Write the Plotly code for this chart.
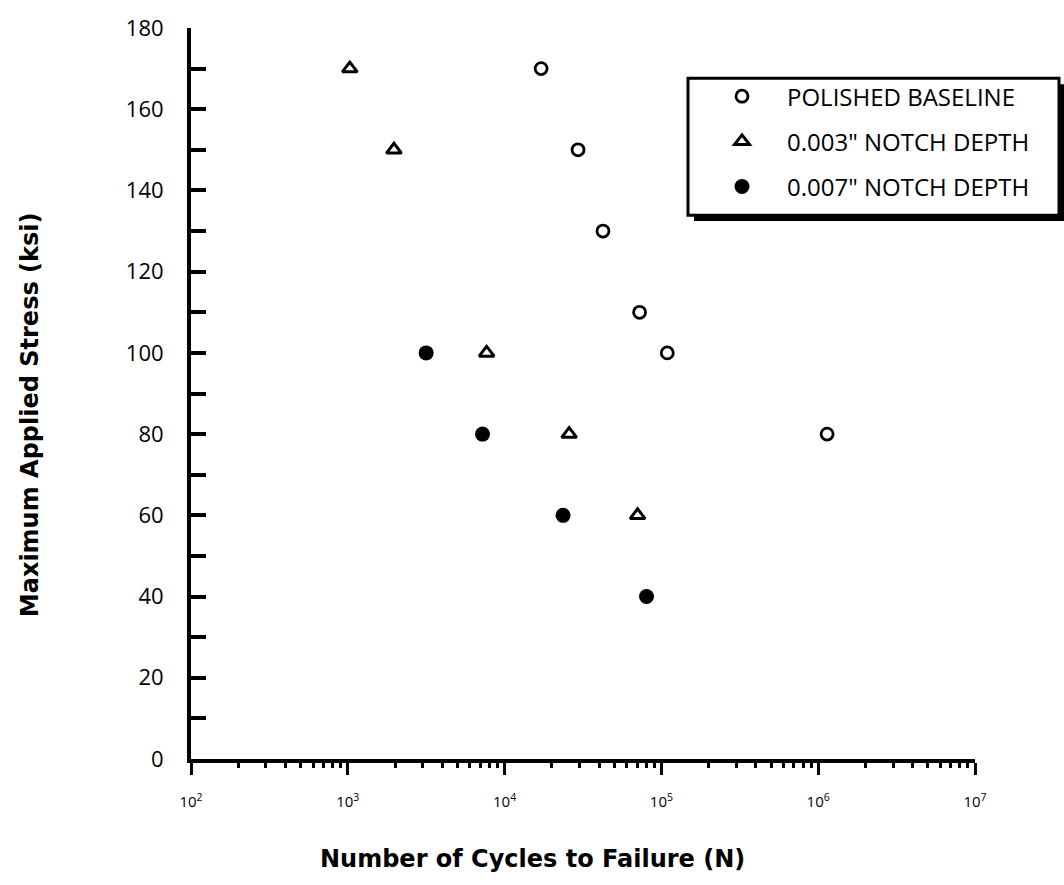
import plotly.graph_objects as go

# Data
polished_cycles = [17100, 29400, 42400, 72600, 109000, 1140000]
polished_stress = [170, 150, 130, 110, 100, 80]

notch003_cycles = [1030, 1970, 7680, 25800, 70500]
notch003_stress = [170, 150, 100, 80, 60]

notch007_cycles = [3160, 7230, 23600, 80400]
notch007_stress = [100, 80, 60, 40]

series_names = ["POLISHED BASELINE", "0.003\" NOTCH DEPTH", "0.007\" NOTCH DEPTH"]

x_tick_vals = [1e2, 1e3, 1e4, 1e5, 1e6, 1e7]
x_tick_text = ["10<sup>2</sup>", "10<sup>3</sup>", "10<sup>4</sup>",
               "10<sup>5</sup>", "10<sup>6</sup>", "10<sup>7</sup>"]
y_tick_vals = list(range(0, 181, 20))

fig = go.Figure()
fig.add_trace(go.Scatter(
    x=polished_cycles, y=polished_stress, mode="markers", name=series_names[0],
    legendgroup="a",
    marker=dict(symbol="circle-open", size=12, color="black", line=dict(width=2.8, color="black"))))
fig.add_trace(go.Scatter(
    x=notch003_cycles, y=notch003_stress, mode="markers", name=series_names[1],
    legendgroup="b",
    marker=dict(symbol="triangle-up-open", size=13, color="black", line=dict(width=3, color="black"))))
fig.add_trace(go.Scatter(
    x=notch007_cycles, y=notch007_stress, mode="markers", name=series_names[2],
    legendgroup="c",
    marker=dict(symbol="circle", size=15, color="black")))

tick_font = dict(family="Open Sans", size=22, color="black")
title_font = dict(family="DejaVu Sans", size=24, color="black")

fig.update_layout(
    width=1064, height=885,
    margin=dict(l=191, r=89, t=17, b=126),
    paper_bgcolor="white", plot_bgcolor="white",
    showlegend=True,
    legend=dict(
        x=(697 - 191) / 784, y=0.937, xanchor="left", yanchor="top",
        bgcolor="rgba(0,0,0,0)", borderwidth=0,
        font=dict(family="Open Sans", size=24, color="black"),
        traceorder="grouped", tracegroupgap=11, itemwidth=80,
    ),
    xaxis=dict(
        type="log", range=[2, 7],
        showline=True, linecolor="black", linewidth=4,
        showgrid=False, zeroline=False,
        ticks="outside", ticklen=12, tickwidth=3, tickcolor="black",
        tickvals=x_tick_vals, ticktext=x_tick_text,
        tickfont=dict(family="Open Sans", size=15, color="black"),
        ticklabelstandoff=14,
        minor=dict(ticks="outside", ticklen=5, tickwidth=3, tickcolor="black",
                   dtick="D1", showgrid=False),
    ),
    yaxis=dict(
        range=[0, 180],
        showline=True, linecolor="black", linewidth=4,
        showgrid=False, zeroline=False,
        ticks="inside", ticklen=15, tickwidth=4, tickcolor="black",
        tickvals=y_tick_vals, tickfont=tick_font,
        ticklabelstandoff=19,
        minor=dict(ticks="inside", ticklen=15, tickwidth=4, tickcolor="black",
                   dtick=10, showgrid=False),
    ),
    shapes=[
        # legend shadow
        dict(type="rect", xref="paper", yref="paper", layer="above",
             x0=(694 - 191) / 784, x1=(1064 - 191) / 784,
             y0=(759 - 213) / 742, y1=(759 - 74) / 742,
             fillcolor="black", line=dict(width=0)),
        # legend box
        dict(type="rect", xref="paper", yref="paper", layer="above",
             x0=(688 - 191) / 784, x1=(1059 - 191) / 784,
             y0=(759 - 207) / 742, y1=(759 - 68) / 742,
             fillcolor="white", line=dict(width=3, color="black")),
    ],
    annotations=[
        dict(text="<b>Number of Cycles to Failure (N)</b>", xref="paper", yref="paper",
             x=(532 - 191) / 784, y=-(860 - 759) / 742, showarrow=False,
             xanchor="center", yanchor="middle", font=title_font),
        dict(text="<b>Maximum Applied Stress (ksi)</b>", xref="paper", yref="paper",
             x=(30 - 191) / 784, y=(759 - 410) / 742, showarrow=False, textangle=-90,
             xanchor="center", yanchor="middle", font=title_font),
    ],
)

fig.write_html("out.html")
